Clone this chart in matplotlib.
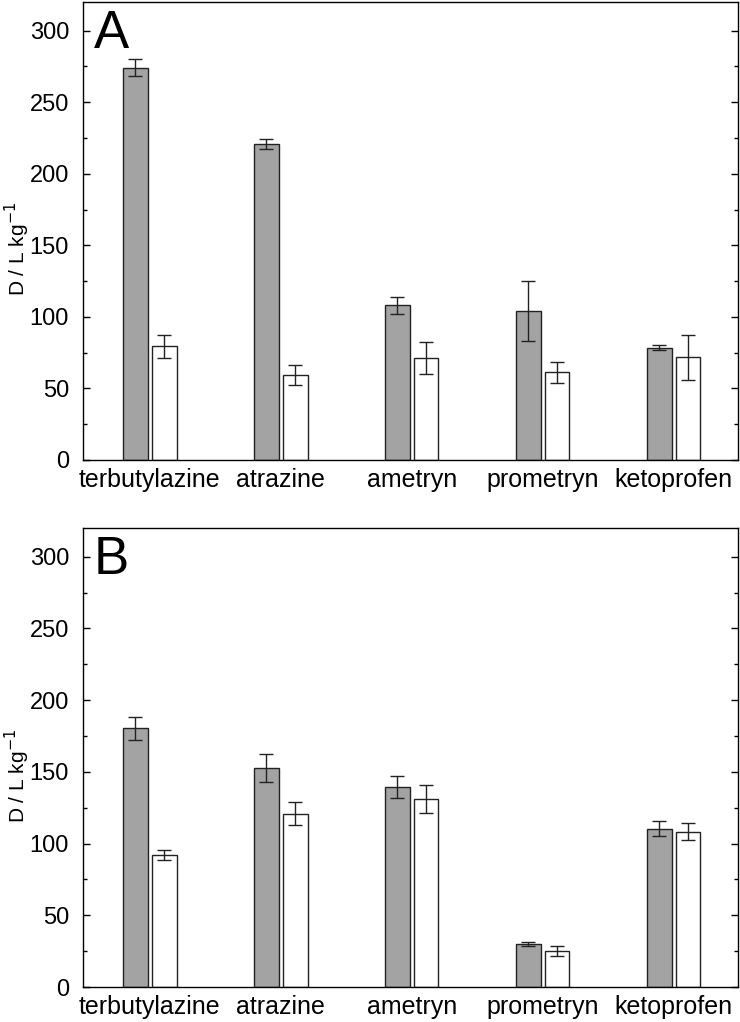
import matplotlib
matplotlib.use("Agg")
import matplotlib.pyplot as plt
import numpy as np

plt.rcParams['font.family'] = ['Liberation Sans', 'DejaVu Sans']

categories = ["terbutylazine", "atrazine", "ametryn", "prometryn", "ketoprofen"]

# Panel A
a_grey = [274, 221, 108, 104, 78.5]
a_grey_err = [6, 3.5, 6, 21, 2]
a_white = [79.5, 59.3, 71.2, 61.2, 71.6]
a_white_err = [8, 7, 11, 7.5, 15.5]

# Panel B
b_grey = [180.5, 152.6, 139.3, 30.2, 110.5]
b_grey_err = [8, 9.5, 7.5, 1.5, 5.5]
b_white = [92.3, 120.7, 131, 25.1, 108.2]
b_white_err = [3.5, 8, 10, 3.5, 6]

yticks = [0, 50, 100, 150, 200, 250, 300]
panel_labels = ["A", "B"]

fig = plt.figure(figsize=(7.4, 10.22), dpi=100)
ax_a = fig.add_axes([0.112, 0.550, 0.885, 0.448])
ax_b = fig.add_axes([0.112, 0.0342, 0.885, 0.4492])

x = np.arange(1, len(categories) + 1)
w = 0.19
off = 0.11

for ax, g, ge, wv, we, lab in [
    (ax_a, a_grey, a_grey_err, a_white, a_white_err, panel_labels[0]),
    (ax_b, b_grey, b_grey_err, b_white, b_white_err, panel_labels[1]),
]:
    ax.bar(x - off, g, width=w, color='#a3a3a3', edgecolor='#222222', linewidth=1.0,
           yerr=ge, capsize=5, error_kw=dict(elinewidth=1.0, capthick=1.0, ecolor='#222222'))
    ax.bar(x + off, wv, width=w, color='white', edgecolor='#222222', linewidth=1.0,
           yerr=we, capsize=5, error_kw=dict(elinewidth=1.0, capthick=1.0, ecolor='#222222'))
    ax.set_xlim(0.49, 5.49)
    ax.set_ylim(0, 320)
    ax.set_yticks(yticks)
    ax.set_yticks(np.arange(25, 320, 50), minor=True)
    ax.set_xticks(x)
    ax.set_xticklabels(categories, fontsize=18)
    ax.tick_params(axis='x', length=0, pad=6)
    ax.tick_params(axis='y', which='major', direction='in', length=5, width=1,
                   labelsize=17, right=True, pad=10)
    ax.tick_params(axis='y', which='minor', direction='in', length=3, width=1, right=True)
    ax.set_ylabel("D / L kg$^{-1}$", fontsize=15)
    ax.yaxis.set_label_coords(-0.077, 0.46)
    for s in ax.spines.values():
        s.set_linewidth(1.0)
    ax.text(0.017, 0.985, lab, transform=ax.transAxes, fontsize=38,
            va='top', ha='left')

fig.savefig("out.png", dpi=100)
